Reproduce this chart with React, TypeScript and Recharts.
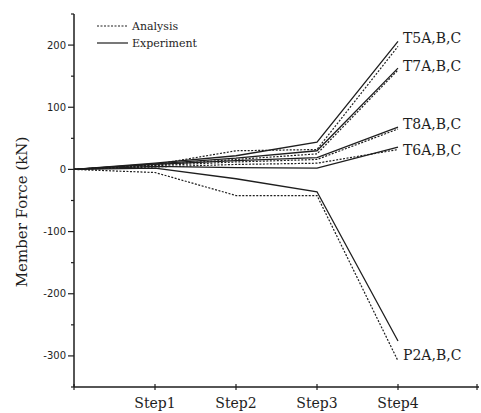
import { LineChart, Line, XAxis, YAxis, LabelList } from "recharts";

const steps = [0, 1, 2, 3, 4];
const stepNames = ["", "Step1", "Step2", "Step3", "Step4", ""];
const members = ["T5A,B,C", "T7A,B,C", "T8A,B,C", "T6A,B,C", "P2A,B,C"];

// member forces in kN, experiment (solid) and analysis (dashed)
const t5Exp = [0, 10, 22, 44, 206];
const t5Ana = [0, 8, 30, 32, 198];
const t7Exp = [0, 9, 18, 30, 163];
const t7Ana = [0, 7, 16, 25, 160];
const t8Exp = [0, 8, 14, 19, 68];
const t8Ana = [0, 6, 12, 16, 65];
const t6Exp = [0, 5, 3, 2, 36];
const t6Ana = [0, 4, 8, 10, 32];
const p2Exp = [0, 2, -15, -36, -276];
const p2Ana = [0, -5, -42, -42, -308];

const yTicks = [-350, -300, -250, -200, -150, -100, -50, 0, 50, 100, 150, 200, 250];
const xTicks = [0, 1, 2, 3, 4, 5];

const data = steps.map((s, i) => ({
  step: s,
  t5Exp: t5Exp[i],
  t5Ana: t5Ana[i],
  t7Exp: t7Exp[i],
  t7Ana: t7Ana[i],
  t8Exp: t8Exp[i],
  t8Ana: t8Ana[i],
  t6Exp: t6Exp[i],
  t6Ana: t6Ana[i],
  p2Exp: p2Exp[i],
  p2Ana: p2Ana[i],
}));

const INK = "#1e1e1e";
const SERIF = "'DejaVu Serif', serif";

// label vertical nudge per member (px)
const labelDy = [-3, -2, -3, 3, 14];
const expKeys = ["t5Exp", "t7Exp", "t8Exp", "t6Exp", "p2Exp"];
const anaKeys = ["t5Ana", "t7Ana", "t8Ana", "t6Ana", "p2Ana"];

function YTick({ x, y, payload }: any) {
  const major = payload.value % 100 === 0 && payload.value > -350 && payload.value < 250;
  return (
    <g>
      <line x1={x - (major ? 6 : 3)} x2={x} y1={y} y2={y} stroke={INK} strokeWidth={1.2} />
      {major && (
        <text x={x - 8} y={y} dy={3.5} textAnchor="end" fontSize={10} fontFamily="'DejaVu Sans', sans-serif" fill={INK}>
          {payload.value}
        </text>
      )}
    </g>
  );
}

function XTick({ x, y, payload }: any) {
  return (
    <g>
      <line x1={x} x2={x} y1={y - 3} y2={y + 3} stroke={INK} strokeWidth={1.2} />
      <text x={x} y={y + 21} textAnchor="middle" fontSize={14} fontFamily={SERIF} fill={INK}>
        {stepNames[payload.value]}
      </text>
    </g>
  );
}

function LegendBox() {
  return (
    <svg width={130} height={40} style={{ position: "absolute", left: 95, top: 18 }}>
      <line x1={2} x2={33} y1={8} y2={8} stroke={INK} strokeWidth={1.2} strokeDasharray="2 1.5" />
      <text x={37} y={12} fontSize={11} fontFamily={SERIF} fill={INK}>Analysis</text>
      <line x1={2} x2={33} y1={25} y2={25} stroke={INK} strokeWidth={1.2} />
      <text x={37} y={29} fontSize={11} fontFamily={SERIF} fill={INK}>Experiment</text>
    </svg>
  );
}

export default function App() {
  return (
    <div style={{ position: "absolute", left: 0, top: 0, width: 481, height: 413, background: "#fff" }}>
      <LineChart width={481} height={413} data={data} margin={{ top: 14, right: 2, left: 0, bottom: 0 }}>
        <XAxis
          dataKey="step"
          type="number"
          domain={[0, 5]}
          ticks={xTicks}
          tick={<XTick />}
          tickSize={0}
          tickMargin={0}
          height={26}
          axisLine={{ stroke: INK, strokeWidth: 1.5 }}
          tickLine={false}
        />
        <YAxis
          type="number"
          domain={[-350, 250]}
          ticks={yTicks}
          tick={<YTick />}
          tickSize={0}
          tickMargin={0}
          width={74}
          interval={0}
          axisLine={{ stroke: INK, strokeWidth: 1.5 }}
          tickLine={false}
          label={{
            content: () => (
              <text transform="translate(27,212) rotate(-90)" textAnchor="middle" fontSize={15} fontFamily={SERIF} fill={INK}>
                Member Force (kN)
              </text>
            ),
          }}
        />
        {anaKeys.map((k) => (
          <Line
            key={k}
            dataKey={k}
            type="linear"
            stroke={INK}
            strokeWidth={1.2}
            strokeDasharray="2 1.5"
            dot={false}
            isAnimationActive={false}
          />
        ))}
        {expKeys.map((k, i) => (
          <Line
            key={k}
            dataKey={k}
            type="linear"
            stroke={INK}
            strokeWidth={1.3}
            dot={false}
            isAnimationActive={false}
          >
            <LabelList
              dataKey={k}
              content={(p: any) =>
                p.index === steps.length - 1 ? (
                  <text x={p.x + 5} y={p.y + labelDy[i]} dy={5} fontSize={14} fontFamily={SERIF} fill={INK}>
                    {members[i]}
                  </text>
                ) : null
              }
            />
          </Line>
        ))}
      </LineChart>
      <LegendBox />
    </div>
  );
}
